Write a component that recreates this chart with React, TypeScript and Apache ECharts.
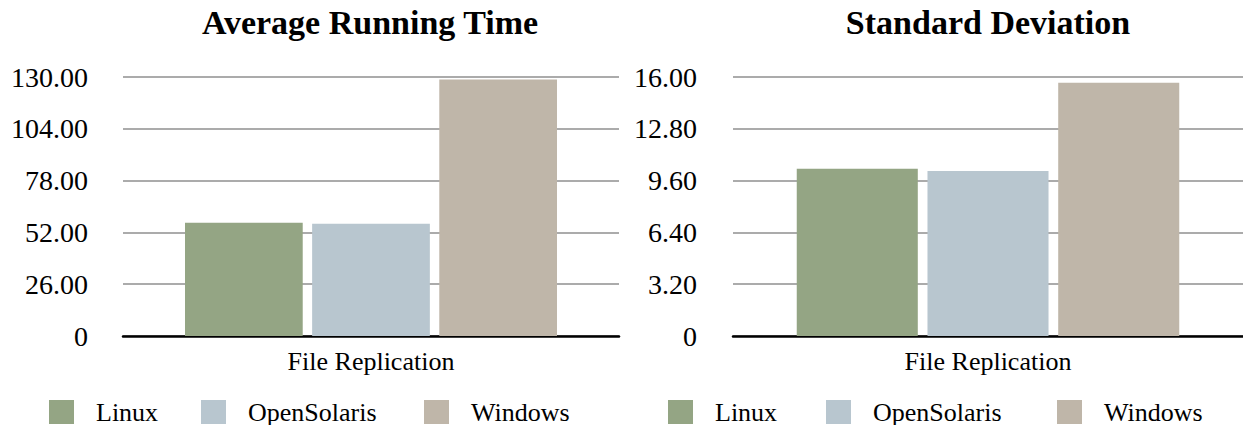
import React, { useEffect, useRef } from "react";
import * as echarts from "echarts";

const categories = ["File Replication"];
const seriesNames = ["Linux", "OpenSolaris", "Windows"];
const avgRunningTime = [56.8, 56.3, 128.7];
const stdDeviation = [10.33, 10.2, 15.65];
const avgTicks = [0, 26, 52, 78, 104, 130];
const stdTicks = [0, 3.2, 6.4, 9.6, 12.8, 16];
const titles = ["Average Running Time", "Standard Deviation"];
const colors = ["#94A584", "#B8C6CF", "#BFB6A9"];

const FONT = "'Liberation Serif', 'Times New Roman', serif";

function fmt(v: number) {
  return v === 0 ? "0" : v.toFixed(2);
}

export default function App() {
  const ref = useRef<HTMLDivElement>(null);
  useEffect(() => {
    if (!ref.current) return;
    const chart = echarts.init(ref.current, undefined, { renderer: "svg" });
    const grids = [
      { left: 123, right: 624, top: 77, bottom: 89 },
      { left: 733, right: 0, top: 77, bottom: 89 },
    ];
    const tickSets = [avgTicks, stdTicks];
    const dataSets = [avgRunningTime, stdDeviation];
    const titleCenters = [370, 988];
    const legendLefts = [
      [49, 201, 424],
      [668, 826, 1057],
    ];

    const option: any = {
      animation: false,
      color: colors,
      title: titles.map((t, i) => ({
        text: t,
        left: titleCenters[i],
        top: 5,
        padding: 0,
        textAlign: "center",
        textStyle: { fontFamily: FONT, fontWeight: "bold", fontSize: 34, color: "#000" },
      })),
      legend: legendLefts.flatMap((row) =>
        row.map((l, k) => ({
          left: l,
          top: 399,
          padding: 0,
          orient: "horizontal",
          itemWidth: 25,
          itemHeight: 24,
          selectedMode: false,
          icon: "rect",
          data: [seriesNames[k]],
          textStyle: { fontFamily: FONT, fontSize: 26, color: "#000", padding: [0, 0, 0, 17] },
        }))
      ),
      grid: grids,
      xAxis: grids.map((_, i) => ({
        type: "category",
        gridIndex: i,
        data: categories,
        axisTick: { show: false },
        axisLine: { lineStyle: { color: "#000", width: 2.5 } },
        axisLabel: { fontFamily: FONT, fontSize: 26, color: "#000", margin: 12 },
      })),
      yAxis: tickSets.map((ticks, i) => ({
        type: "value",
        gridIndex: i,
        min: ticks[0],
        max: ticks[ticks.length - 1],
        interval: ticks[1] - ticks[0],
        axisLine: { show: false },
        axisTick: { show: false },
        splitLine: { lineStyle: { color: "#ABABAB", width: 2 } },
        axisLabel: {
          fontFamily: FONT,
          fontSize: 28,
          color: "#000",
          margin: i === 0 ? 35 : 36,
          formatter: (v: number) => fmt(v),
        },
      })),
      series: dataSets.flatMap((data, i) =>
        seriesNames.map((n, k) => ({
          name: n,
          type: "bar",
          xAxisIndex: i,
          yAxisIndex: i,
          data: [data[k]],
          barCategoryGap: "25%",
          barGap: "8%",
          itemStyle: { color: colors[k] },
        }))
      ),
    };
    chart.setOption(option);
    return () => chart.dispose();
  }, []);
  return (
    <div
      ref={ref}
      style={{ position: "fixed", left: 0, top: 0, width: 1243, height: 425, background: "#fff" }}
    />
  );
}
